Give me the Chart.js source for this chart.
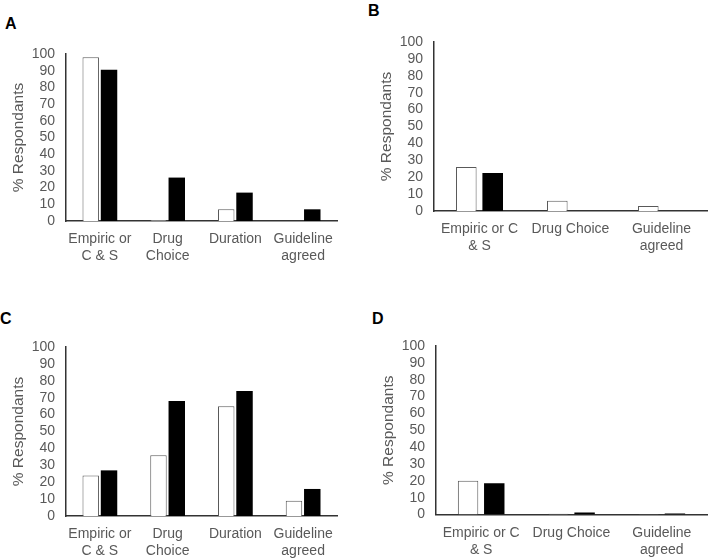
<!DOCTYPE html>
<html>
<head>
<meta charset="utf-8">
<script src="https://cdn.jsdelivr.net/npm/chart.js@4"></script>
<style>
  body { margin: 0; background: #fff; }
  #wrap { position: relative; width: 709px; height: 558px; font-family: "Liberation Sans", Arial, sans-serif; }
  canvas { position: absolute; }
  .tag { position: absolute; font-weight: bold; font-size: 16px; line-height: 16px; color: #000; }
</style>
</head>
<body>
<div id="wrap">
  <div class="tag" style="left:5px;top:16px">A</div>
  <div class="tag" style="left:368px;top:3px">B</div>
  <div class="tag" style="left:0px;top:311px">C</div>
  <div class="tag" style="left:372px;top:311px">D</div>
  <canvas id="chartA" width="350" height="280" style="left:0;top:0"></canvas>
  <canvas id="chartB" width="354" height="280" style="left:355px;top:0"></canvas>
  <canvas id="chartC" width="350" height="278" style="left:0;top:280px"></canvas>
  <canvas id="chartD" width="354" height="278" style="left:355px;top:280px"></canvas>
</div>
<script>
// categories
const categoriesFour = [['Empiric or', 'C & S'], ['Drug', 'Choice'], 'Duration', ['Guideline', 'agreed']];
const categoriesThree = [['Empiric or C', '& S'], 'Drug Choice', ['Guideline', 'agreed']];

// values (% respondants), white bars then black bars
const panelAWhite = [98, 0.5, 7, 0];
const panelABlack = [90.5, 26, 17, 7];
const panelBWhite = [26, 6, 3];
const panelBBlack = [22.5, 0, 0];
const panelCWhite = [24, 36, 65, 9];
const panelCBlack = [27, 68, 74, 16];
const panelDWhite = [20, 0.5, 0.3];
const panelDBlack = [18.5, 1.2, 0.6];

const yMax = 100;
const yStep = 10;
const yTitle = '% Respondants';

const FONT = '"Liberation Sans", Arial, sans-serif';
const GREY = '#595959';

function drawPanel(id, labels, whiteVals, blackVals, geo) {
    const ctx = document.getElementById(id).getContext('2d');
    new Chart(ctx, {
        type: 'bar',
        data: {
            labels: labels,
            datasets: [{
                data: whiteVals,
                backgroundColor: '#ffffff',
                borderColor: GREY,
                borderWidth: 1,
                barPercentage: geo.barPct,
                categoryPercentage: geo.catPct
            }, {
                data: blackVals,
                backgroundColor: '#000000',
                borderColor: '#000000',
                borderWidth: 0,
                barPercentage: geo.barPct,
                categoryPercentage: geo.catPct
            }]
        },
        options: {
            responsive: false,
            animation: false,
            layout: { padding: { left: 0, top: geo.top, right: geo.right, bottom: 0 } },
            plugins: {
                legend: { display: false },
                tooltip: { enabled: false }
            },
            scales: {
                x: {
                    grid: { display: false, drawTicks: false },
                    border: { display: true, color: '#333333', width: 1.5 },
                    ticks: {
                        color: GREY,
                        font: { family: FONT, size: 14 },
                        padding: 10,
                        maxRotation: 0,
                        autoSkip: false
                    },
                    afterFit: s => { s.height = geo.xHeight; }
                },
                y: {
                    min: 0,
                    max: yMax,
                    grid: { display: false, drawTicks: false },
                    border: { display: true, color: '#333333', width: 1.5 },
                    ticks: {
                        stepSize: yStep,
                        autoSkip: false,
                        color: GREY,
                        font: { family: FONT, size: 14 },
                        padding: 11
                    },
                    title: {
                        display: true,
                        text: yTitle,
                        color: GREY,
                        font: { family: FONT, size: 15.5 },
                        padding: { top: geo.titlePad, bottom: 0 }
                    },
                    afterFit: s => { s.width = geo.yWidth; }
                }
            }
        }
    });
}

drawPanel('chartA', categoriesFour, panelAWhite, panelABlack,
    { top: 54, right: 13, xHeight: 59, yWidth: 66, titlePad: 9.2, barPct: 0.9, catPct: 0.54 });
drawPanel('chartB', categoriesThree, panelBWhite, panelBBlack,
    { top: 42, right: 2, xHeight: 69, yWidth: 79, titlePad: 22.2, barPct: 0.78, catPct: 0.58 });
drawPanel('chartC', categoriesFour, panelCWhite, panelCBlack,
    { top: 67, right: 13, xHeight: 42, yWidth: 66, titlePad: 9, barPct: 0.9, catPct: 0.54 });
drawPanel('chartD', categoriesThree, panelDWhite, panelDBlack,
    { top: 66, right: 2, xHeight: 43.5, yWidth: 81, titlePad: 24.2, barPct: 0.78, catPct: 0.58 });
</script>
</body>
</html>
